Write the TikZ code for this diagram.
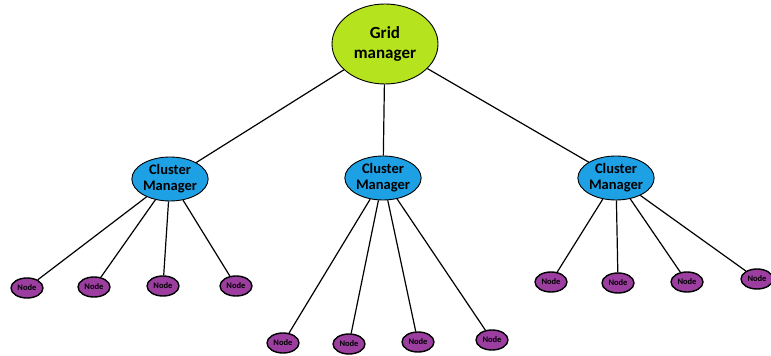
\documentclass[tikz,border=0pt]{standalone}
\usepackage{fontspec}
\setmainfont{Carlito}
\usetikzlibrary{shapes.geometric}
\definecolor{gridgreen}{RGB}{181,228,30}
\definecolor{clusterblue}{RGB}{30,160,228}
\definecolor{nodepurple}{RGB}{155,62,160}
\tikzset{
  gridbox/.style={ellipse,draw=black,line width=0.9pt,fill=gridgreen,minimum width=106pt,minimum height=80pt,inner sep=0pt,align=center,font=\fontsize{17}{20}\selectfont\bfseries},
  clusterbox/.style={ellipse,draw=black,line width=0.9pt,fill=clusterblue,minimum width=76pt,minimum height=44pt,inner sep=0pt,align=center,font=\fontsize{14.5}{16}\selectfont\bfseries},
  leafbox/.style={ellipse,draw=black,line width=1.4pt,fill=nodepurple,minimum width=32pt,minimum height=20pt,inner sep=0pt,font=\fontsize{8.5}{9}\selectfont\bfseries},
  link/.style={draw=black,line width=1.2pt}
}
\begin{document}
\begin{tikzpicture}[x=1pt,y=1pt]
\useasboundingbox (0,0) rectangle (771,356);
\node[gridbox] (g) at (385,312) {Grid\\manager};
\node[clusterbox] (c1) at (170,177) {Cluster\\Manager};
\node[clusterbox] (c2) at (383,178) {Cluster\\Manager};
\node[clusterbox] (c3) at (616,178) {Cluster\\Manager};
\node[leafbox] (a1) at (27,68) {Node};
\node[leafbox] (a2) at (94,69) {Node};
\node[leafbox] (a3) at (163,70) {Node};
\node[leafbox] (a4) at (236,70) {Node};
\node[leafbox] (b1) at (283,13) {Node};
\node[leafbox] (b2) at (349,12) {Node};
\node[leafbox] (b3) at (418,14) {Node};
\node[leafbox] (b4) at (492,16) {Node};
\node[leafbox] (d1) at (551,74) {Node};
\node[leafbox] (d2) at (618,73) {Node};
\node[leafbox] (d3) at (687,74) {Node};
\node[leafbox] (d4) at (757,77) {Node};
\draw[link] (g) -- (c1);
\draw[link] (g) -- (c2);
\draw[link] (g) -- (c3);
\foreach \n in {a1,a2,a3,a4} \draw[link] (c1) -- (\n);
\foreach \n in {b1,b2,b3,b4} \draw[link] (c2) -- (\n);
\foreach \n in {d1,d2,d3,d4} \draw[link] (c3) -- (\n);
\end{tikzpicture}
\end{document}
